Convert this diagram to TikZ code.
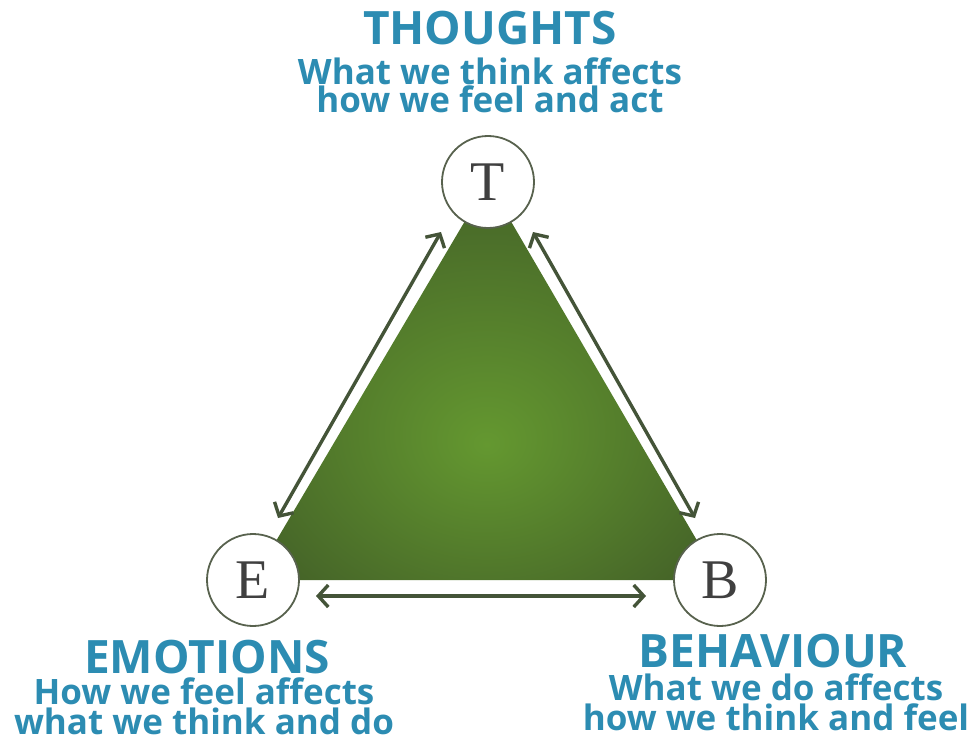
\documentclass[tikz,border=0pt]{standalone}
\usepackage{fontspec}
\setmainfont{Open Sans}
\newfontfamily\ringfont{Liberation Serif}
\usetikzlibrary{calc}
\usetikzlibrary{arrows.meta}
\definecolor{titleblue}{RGB}{44,140,178}
\definecolor{ringgray}{RGB}{88,98,78}
\definecolor{arrowgreen}{RGB}{68,84,56}
\definecolor{greenin}{RGB}{100,152,48}
\definecolor{greenout}{RGB}{62,88,38}
\pgfdeclareradialshading{trishade}{\pgfpoint{0bp}{-8bp}}{color(0bp)=(greenin); color(36bp)=(greenout); color(60bp)=(greenout)}

\begin{document}
\begin{tikzpicture}[x=1pt,y=-1pt,
  letter/.style={circle, draw=ringgray, line width=1.8pt, fill=white, minimum size=92pt, inner sep=0pt, font=\ringfont\fontsize{56}{56}\selectfont, text=black!75},
  twoway/.style={arrowgreen, line width=3.4pt, {Straight Barb[length=10pt,width=22pt]}-{Straight Barb[length=10pt,width=22pt]}},
  headline/.style={text=titleblue, inner sep=0pt, anchor=base, text depth=0pt, font=\fontsize{46}{46}\selectfont\bfseries},
  subline/.style={text=titleblue, align=center, inner sep=0pt, anchor=base, font=\fontsize{35}{#1}\selectfont\bfseries}]
\useasboundingbox (0,0) rectangle (975,741);
% corners of the triangle
\coordinate (tc) at (488,182);
\coordinate (ec) at (253,580);
\coordinate (bc) at (720,580);
\shade[shading=trishade] (tc) -- (bc) -- (ec) -- cycle;
\node[letter] (T) at (tc) {T};
\node[letter] (E) at (ec) {E};
\node[letter] (B) at (bc) {B};
% arrow ends
\coordinate (tl) at (441,232);
\coordinate (el) at (278,518);
\coordinate (tr) at (533,232);
\coordinate (br) at (695,518);
\coordinate (eb) at (316,596);
\coordinate (be) at (646,596);
\draw[twoway] (tl) -- (el);
\draw[twoway] (tr) -- (br);
\draw[twoway] (eb) -- (be);
% labels
\node[headline] (thoughts) at (490,45) {THOUGHTS};
\node[subline=23] (thoughtsub) at (490,113) {What we think affects\\how we feel and act};
\node[headline] (emotions) at (207,673) {EMOTIONS};
\node[subline=30] (emotionsub) at (204,734) {How we feel affects\\what we think and do};
\node[headline] (behaviour) at (773,667) {BEHAVIOUR};
\node[subline=30] (behavioursub) at (776,730) {What we do affects\\how we think and feel};
\end{tikzpicture}
\end{document}
